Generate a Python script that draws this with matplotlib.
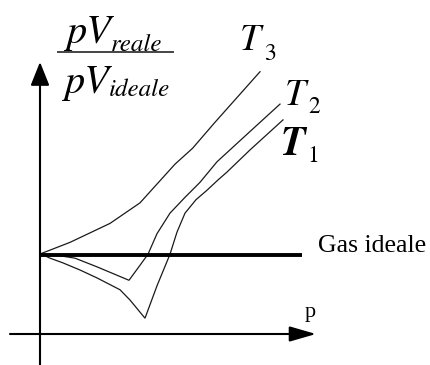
import matplotlib
matplotlib.use("Agg")
import matplotlib.pyplot as plt
from matplotlib.lines import Line2D

# Compressibility factor pV_real / pV_ideal versus pressure (schematic)
T3_p = [0.03, 0.6, 1.4, 2.0, 2.4, 2.7, 3.05, 3.5, 3.95, 4.4]
T3_z = [1.02, 1.16, 1.40, 1.66, 1.94, 2.15, 2.35, 2.68, 3.00, 3.32]

T2_p = [0.03, 0.4, 0.7, 1.14, 1.78, 2.0, 2.16, 2.34, 2.6, 2.9, 3.2, 3.54, 4.16, 4.8]
T2_z = [1.01, 0.99, 0.96, 0.85, 0.68, 0.87, 1.01, 1.27, 1.53, 1.73, 1.92, 2.18, 2.54, 2.91]

T1_p = [0.03, 0.2, 0.46, 0.8, 1.14, 1.6, 1.8, 2.1, 2.34, 2.6, 2.74, 2.9, 3.12,
        3.34, 3.56, 3.74, 4.2, 4.86]
T1_z = [1.01, 0.96, 0.90, 0.81, 0.71, 0.56, 0.43, 0.20, 0.61, 1.01, 1.29, 1.53,
        1.70, 1.82, 1.95, 2.05, 2.33, 2.71]

ideal_p = [0.0, 5.24]
ideal_z = [1.0, 1.0]

W, H = 430, 365
fig = plt.figure(figsize=(W / 100, H / 100), dpi=100)
ax = fig.add_axes([0, 0, 1, 1])
ax.set_xlim(-0.8, 7.8)
ax.set_ylim(-0.3924, 4.2278)
ax.axis("off")

# curves
for p, z in ((T3_p, T3_z), (T2_p, T2_z), (T1_p, T1_z)):
    ax.plot(p, z, color="#1a1a1a", lw=0.9, solid_joinstyle="miter")

# ideal gas reference
ax.plot(ideal_p, ideal_z, color="black", lw=2.8, solid_capstyle="butt")

# coordinate axes with arrowheads
ax.annotate("", xy=(0, 3.443), xytext=(0, -0.45),
            arrowprops=dict(arrowstyle="-|>,head_length=0.8,head_width=0.32",
                            mutation_scale=18, lw=1.5, color="black",
                            shrinkA=0, shrinkB=0))
ax.annotate("", xy=(5.52, 0.0), xytext=(-0.6, 0.0),
            arrowprops=dict(arrowstyle="-|>,head_length=0.9,head_width=0.26",
                            mutation_scale=18, lw=1.5, color="black",
                            shrinkA=0, shrinkB=0))


def ftext(px, py, s, size, family="STIXGeneral", **kw):
    """Place text at a pixel position (origin top-left), baseline anchored."""
    fig.text(px / W, 1 - py / H, s, fontsize=size, ha="left", va="baseline",
             family=family, **kw)


# vertical axis label as a fraction
ftext(66, 43, "pV", 29, style="italic")
ftext(111, 51, "reale", 18, style="italic")
ftext(64, 93, "pV", 29, style="italic")
ftext(109, 96, "ideale", 18, style="italic")
fig.add_artist(Line2D([58 / W, 173 / W], [1 - 52 / H, 1 - 52 / H],
                      transform=fig.transFigure, color="#444444", lw=1.4))

# horizontal axis label
ftext(305, 317, "p", 16, family="Liberation Serif")

# curve labels
ftext(240, 50, "T", 27, style="italic")
ftext(264, 60, "3", 17)
ftext(285, 105, "T", 27, style="italic")
ftext(308, 113, "2", 17)
ftext(280, 155, "T", 29, style="italic", weight="bold")
ftext(307, 162, "1", 17)

ftext(318, 252, "Gas ideale", 18.5, family="Liberation Serif")

fig.savefig("out.png", dpi=100)
